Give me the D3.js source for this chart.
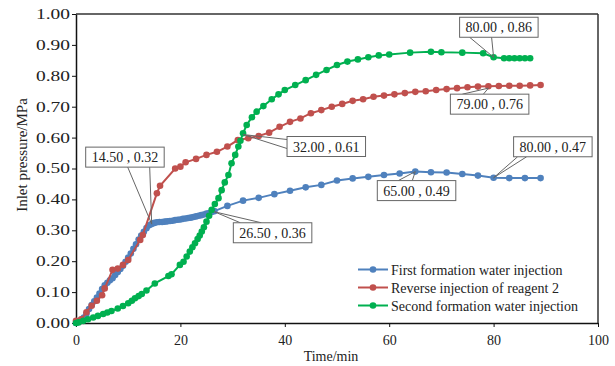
<!DOCTYPE html>
<html>
<head>
<meta charset="utf-8">
<script src="https://cdn.jsdelivr.net/npm/d3@7"></script>
<style>
  body { margin: 0; background: #fff; }
  svg { display: block; }
  text { font-family: "Liberation Serif", "Times New Roman", serif; fill: #222; }
</style>
</head>
<body>
<div id="chart"></div>
<script>
// ---- data ----
let seriesNames = ["First formation water injection", "Reverse injection of reagent 2", "Second formation water injection"]
let seriesColors = ["#4f81bd", "#c0504d", "#00b050"]

let firstTime = [0, 0.5, 1, 1.5, 2, 2.5, 3, 3.5, 4, 4.5, 5, 5.5, 6, 6.5, 7, 7.5, 8, 8.5, 9, 9.5,
  10, 10.5, 11, 11.5, 12, 12.5, 13, 13.5, 14, 14.5, 15, 15.5, 16, 16.5, 17, 17.5, 18, 18.5, 19, 19.5,
  20, 20.5, 21, 21.5, 22, 22.5, 23, 23.5, 24, 24.5, 25, 25.5, 26, 26.5,
  29, 32, 35, 38, 41, 44, 47, 50, 53, 56, 59, 62, 65, 68, 71, 74, 77, 80, 83, 86, 89]
let firstPressure = [0, 0.005, 0.01, 0.018, 0.03, 0.045, 0.058, 0.07, 0.082, 0.095, 0.11, 0.122, 0.13, 0.138, 0.145, 0.155, 0.165, 0.175, 0.185, 0.198,
  0.212, 0.225, 0.24, 0.255, 0.27, 0.283, 0.295, 0.307, 0.316, 0.32, 0.324, 0.326, 0.327, 0.327, 0.328, 0.329, 0.33, 0.331, 0.333, 0.334,
  0.335, 0.337, 0.338, 0.34, 0.341, 0.343, 0.345, 0.347, 0.349, 0.351, 0.354, 0.356, 0.359, 0.362,
  0.379, 0.396, 0.405, 0.417, 0.428, 0.439, 0.447, 0.461, 0.468, 0.473, 0.479, 0.484, 0.49, 0.488, 0.487, 0.482, 0.477, 0.47, 0.469, 0.469, 0.469]

let reverseTime = [0, 1, 2, 3, 4, 5, 5.5, 7, 8, 9, 10, 12.3, 12.8, 15.5, 16.1, 19, 20, 21, 23, 25,
  27, 29, 31, 33, 35, 37, 39, 41, 43, 45, 47, 49, 51, 53, 55, 57, 59, 61, 63, 65,
  67, 69, 71, 73, 75, 77, 79, 81, 83, 85, 87, 89]
let reversePressure = [0.007, 0.012, 0.035, 0.056, 0.072, 0.09, 0.112, 0.172, 0.176, 0.188, 0.204, 0.269, 0.285, 0.42, 0.444, 0.5, 0.506, 0.52, 0.531, 0.544,
  0.554, 0.571, 0.592, 0.598, 0.605, 0.616, 0.635, 0.651, 0.662, 0.679, 0.689, 0.7, 0.709, 0.719, 0.724, 0.732, 0.736, 0.74, 0.744, 0.748,
  0.75, 0.754, 0.757, 0.76, 0.763, 0.765, 0.766, 0.767, 0.768, 0.768, 0.769, 0.77]

let secondTime = [0, 0.5, 1.4, 2.3, 3.3, 4.2, 5.2, 6, 6.8, 8, 9, 10, 10.7, 11.3, 12, 12.6, 13.5, 15.1, 17.7, 18.3,
  19.9, 20.6, 21.2, 21.8, 22.3, 22.8, 23.3, 23.7, 24.1, 24.5, 25, 25.5, 26, 26.6, 27.3, 27.9, 28.5, 29.2, 29.8, 30.5,
  31.1, 31.5, 32, 32.7, 33.7, 34.6, 35.9, 37.5, 38.8, 40, 42, 44, 46, 48, 50, 52, 54, 56, 58, 60,
  64, 68, 70, 74, 78, 80, 82, 83, 84, 85, 86, 87]
let secondPressure = [0, 0.002, 0.007, 0.012, 0.018, 0.023, 0.029, 0.034, 0.039, 0.047, 0.055, 0.064, 0.072, 0.08, 0.087, 0.094, 0.105, 0.128, 0.152, 0.158,
  0.188, 0.198, 0.215, 0.231, 0.245, 0.258, 0.272, 0.283, 0.296, 0.31, 0.328, 0.347, 0.366, 0.385, 0.404, 0.43, 0.455, 0.479, 0.517, 0.544,
  0.571, 0.59, 0.614, 0.641, 0.666, 0.684, 0.702, 0.724, 0.74, 0.754, 0.77, 0.786, 0.803, 0.819, 0.835, 0.846, 0.853, 0.86, 0.866, 0.869,
  0.875, 0.878, 0.876, 0.875, 0.873, 0.86, 0.857, 0.857, 0.857, 0.857, 0.857, 0.857]

let xTicks = [0, 20, 40, 60, 80, 100]
let yTicks = [0, 0.1, 0.2, 0.3, 0.4, 0.5, 0.6, 0.7, 0.8, 0.9, 1.0]

// labelled points (time, pressure)
let calloutTime = [14.5, 26.5, 32, 65, 80, 79, 80]
let calloutPressure = [0.32, 0.36, 0.61, 0.49, 0.47, 0.76, 0.86]

// ---- drawing ----
let w = 615, h = 366
let serif = "Liberation Serif, Times New Roman, serif"
let svg = d3.select("#chart").append("svg").attr("width", w).attr("height", h)

let x = d3.scaleLinear().domain([0, 100]).range([76, 598])
let y = d3.scaleLinear().domain([0, 1]).range([323, 14])

// frame
svg.append("line").attr("x1", 76).attr("x2", 598).attr("y1", 14).attr("y2", 14)
  .attr("stroke", "#333").attr("stroke-width", 1.5)
svg.append("line").attr("x1", 598).attr("x2", 598).attr("y1", 14).attr("y2", 323)
  .attr("stroke", "#333").attr("stroke-width", 1.5)

let xAxis = svg.append("g").attr("transform", "translate(0,323)")
  .call(d3.axisBottom(x).tickValues(xTicks).tickSize(4).tickSizeOuter(0).tickPadding(8))
let yAxis = svg.append("g").attr("transform", "translate(76,0)")
  .call(d3.axisLeft(y).tickValues(yTicks).tickFormat(d3.format(".2f")).tickSize(4).tickSizeOuter(0).tickPadding(2))

for (let ax of [xAxis, yAxis]) {
  ax.attr("font-family", serif).attr("font-size", 14)
  ax.select(".domain").attr("stroke", "#111").attr("stroke-width", 1.5)
  ax.selectAll(".tick line").attr("stroke", "#111")
  ax.selectAll(".tick text").attr("fill", "#222")
}
yAxis.selectAll(".tick text").attr("textLength", 34).attr("lengthAdjust", "spacingAndGlyphs")

// axis titles
svg.append("text").attr("x", 331).attr("y", 361).attr("text-anchor", "middle")
  .attr("font-family", serif).attr("font-size", 14).text("Time/min")
svg.append("text").attr("transform", "translate(27,155) rotate(-90)").attr("text-anchor", "middle")
  .attr("font-family", serif).attr("font-size", 15).text("Inlet pressure/MPa")

// series
let series = [
  d3.zip(firstTime, firstPressure),
  d3.zip(reverseTime, reversePressure),
  d3.zip(secondTime, secondPressure)
]
let line = d3.line().x(d => x(d[0])).y(d => y(d[1]))

series.forEach((pts, i) => {
  svg.append("path").datum(pts).attr("d", line)
    .attr("fill", "none").attr("stroke", seriesColors[i]).attr("stroke-width", 2)
  svg.append("g").selectAll("circle").data(pts).enter().append("circle")
    .attr("cx", d => x(d[0])).attr("cy", d => y(d[1])).attr("r", 3.3)
    .attr("fill", seriesColors[i])
})

// callouts: box offset from the point, which edge the wedge leaves from, wedge ends along that edge
let calloutLayout = [
  { dx: -66, dy: -77, side: "bottom", a: 42, b: 64 },
  { dx: 19, dy: 11, side: "top", a: 7, b: 28 },
  { dx: 44, dy: 2, side: "left", a: 3, b: 12 },
  { dx: -38, dy: 9, side: "top", a: 21, b: 35 },
  { dx: 20, dy: -41, side: "bottom", a: 4, b: 13 },
  { dx: -38, dy: 6, side: "top", a: 12, b: 33 },
  { dx: -34, dy: -40, side: "bottom", a: 10, b: 32 }
]
let fmt = d3.format(".2f")
calloutTime.forEach((t, i) => {
  let px = x(t), py = y(calloutPressure[i])
  let L = calloutLayout[i]
  let g = svg.append("g")
  let bx = px + L.dx, by = py + L.dy, bh = 20
  let txt = g.append("text").attr("font-family", serif).attr("font-size", 14)
    .text(fmt(t) + " , " + fmt(calloutPressure[i]))
  let bw = txt.node().getComputedTextLength() + 12
  let ends
  if (L.side == "bottom") ends = [[bx + L.a, by + bh], [bx + L.b, by + bh]]
  else if (L.side == "top") ends = [[bx + L.a, by], [bx + L.b, by]]
  else ends = [[bx, by + L.a], [bx, by + L.b]]
  g.insert("path", "text").attr("d", `M${ends[0][0]},${ends[0][1]}L${px},${py}L${ends[1][0]},${ends[1][1]}`)
    .attr("fill", "none").attr("stroke", "#666").attr("stroke-width", 1)
  g.insert("rect", "text").attr("x", bx).attr("y", by).attr("width", bw).attr("height", bh)
    .attr("fill", "#fff").attr("stroke", "#666").attr("stroke-width", 1)
  txt.attr("x", bx + bw / 2).attr("y", by + 15).attr("text-anchor", "middle")
})

// legend
let legend = svg.append("g")
seriesNames.forEach((name, i) => {
  let ly = 269.5 + i * 18
  legend.append("line").attr("x1", 358).attr("x2", 388).attr("y1", ly).attr("y2", ly)
    .attr("stroke", seriesColors[i]).attr("stroke-width", 2)
  legend.append("circle").attr("cx", 373).attr("cy", ly).attr("r", 3.3).attr("fill", seriesColors[i])
  legend.append("text").attr("x", 391).attr("y", ly + 5).attr("font-family", serif).attr("font-size", 14).text(name)
})
</script>
</body>
</html>
